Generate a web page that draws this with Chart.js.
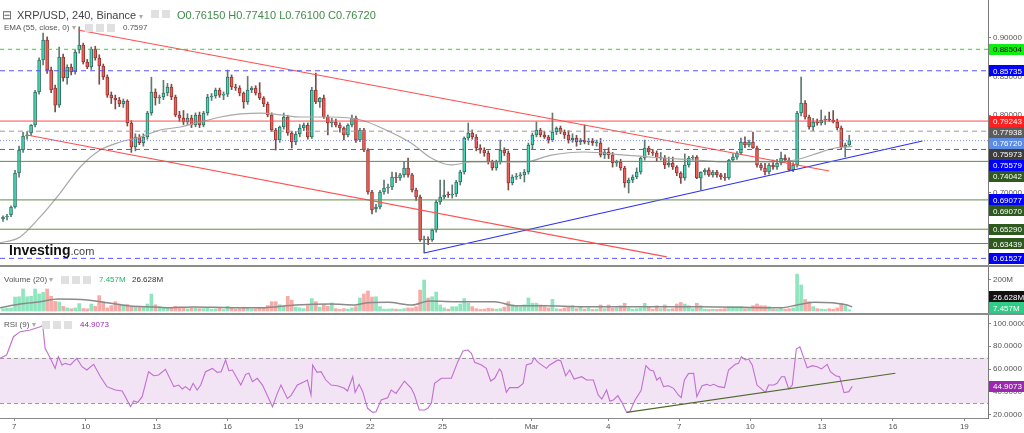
<!DOCTYPE html>
<html>
<head>
<meta charset="utf-8">
<title>XRP/USD, 240, Binance</title>
<script src="https://cdn.jsdelivr.net/npm/chart.js@4.4.1/dist/chart.umd.min.js"></script>
<style>
  html, body { margin: 0; padding: 0; background: #fff; }
  body { position: relative; width: 1024px; height: 433px; overflow: hidden; font-family: "Liberation Sans", Arial, sans-serif; }
  .pane { position: absolute; left: 0; }
  .lg { position: absolute; white-space: nowrap; color: #555; font-size: 8px; line-height: 10px; }
  .ic { display: inline-block; width: 8px; height: 8px; background: #e0e0e0; margin-right: 3px; vertical-align: -1px; }
  .sep { position: absolute; left: 0; width: 1024px; height: 2px; background: #8c8c8c; }
</style>
</head>
<body>
<canvas id="pc" class="pane" width="1024" height="266" style="top:0"></canvas>
<canvas id="vc" class="pane" width="1024" height="48" style="top:266px"></canvas>
<canvas id="rc" class="pane" width="1024" height="119" style="top:314px"></canvas>
<div class="sep" style="top:265px"></div>
<div class="sep" style="top:313px"></div>

<div class="lg" style="left:2px;top:8px;font-size:12px;line-height:14px;color:#666">&#8863;</div>
<div class="lg" style="left:17px;top:8px;font-size:11px;line-height:14px;color:#444">XRP/USD, 240, Binance <span style="font-size:8px;color:#aaa">&#9662;</span></div>
<div class="lg" style="left:151px;top:10px"><span class="ic"></span><span class="ic"></span></div>
<div class="lg" style="left:177px;top:8px;font-size:11px;line-height:14px;color:#3f8c4a">O0.76150 H0.77410 L0.76100 C0.76720</div>

<div class="lg" style="left:4px;top:23px">EMA (55, close, 0) <span style="color:#aaa">&#9662;</span></div>
<div class="lg" style="left:85px;top:24px"><span class="ic"></span><span class="ic"></span><span class="ic"></span></div>
<div class="lg" style="left:123px;top:23px;color:#555">0.7597</div>

<div class="lg" style="left:9px;top:242px;font-size:14px;line-height:16px;font-weight:bold;color:#111">Investing<span style="font-weight:normal;font-size:11px;color:#444">.com</span></div>

<div class="lg" style="left:4px;top:275px">Volume (20) <span style="color:#aaa">&#9662;</span></div>
<div class="lg" style="left:61px;top:276px"><span class="ic"></span><span class="ic"></span><span class="ic"></span></div>
<div class="lg" style="left:99px;top:275px;color:#22b573">7.457M</div>
<div class="lg" style="left:132px;top:275px;color:#333">26.628M</div>

<div class="lg" style="left:4px;top:320px">RSI (9) <span style="color:#aaa">&#9662;</span></div>
<div class="lg" style="left:42px;top:321px"><span class="ic"></span><span class="ic"></span><span class="ic"></span></div>
<div class="lg" style="left:80px;top:320px;color:#9c27b0">44.9073</div>

<script>
// 4h candles, index 0 = Feb 6 ~12:00, last = Mar 14 ~04:00
const opens = [
  .6661,.6687,.6712,.6816,.7254,.7551,.7732,.7770,.7874,.8299,
  .8712,.8970,.8583,.8351,.8131,.8751,.8480,.8622,.8557,.8841,
  .8906,.8686,.8622,.8854,.8738,.8635,.8493,.8260,.8222,.8196,
  .8144,.8183,.7899,.7590,.7719,.7641,.7719,.8028,.8299,.8222,
  .8235,.8286,.8364,.8235,.8003,.7964,.7912,.7964,.7874,.8003,
  .7874,.8028,.8235,.8248,.8325,.8260,.8273,.8493,.8364,.8351,
  .8286,.8170,.8325,.8351,.8286,.8222,.8144,.8003,.7809,.7680,
  .7848,.7977,.7770,.7654,.7757,.7835,.7874,.7719,.8325,.8170,
  .8222,.7977,.7899,.7912,.7874,.7835,.7745,.7874,.7964,.7680,
  .7809,.7551,.7009,.6790,.6816,.7009,.7061,.7074,.7203,.7190,
  .7229,.7319,.7229,.7035,.6945,.6390,.6403,.6390,.6519,.6880,
  .6945,.6983,.6970,.6983,.7138,.7267,.7706,.7770,.7719,.7577,
  .7551,.7512,.7396,.7319,.7396,.7551,.7512,.7125,.7203,.7216,
  .7229,.7267,.7616,.7745,.7809,.7745,.7719,.7680,.7783,.7835,
  .7783,.7745,.7680,.7706,.7654,.7680,.7654,.7667,.7641,.7641,
  .7486,.7525,.7486,.7383,.7396,.7319,.7125,.7164,.7203,.7267,
  .7448,.7577,.7525,.7512,.7448,.7448,.7358,.7383,.7332,.7254,
  .7190,.7358,.7448,.7460,.7190,.7267,.7293,.7229,.7267,.7229,
  .7203,.7190,.7422,.7460,.7512,.7654,.7616,.7654,.7577,.7358,
  .7319,.7267,.7358,.7332,.7383,.7448,.7422,.7293,.7358,.8028,
  .8157,.7977,.7848,.7912,.7899,.7938,.7951,.7938,.7912,.7835,
  .7590,.7615
];
const highs = [
  .6700,.6720,.6830,.7290,.7600,.7780,.7790,.7880,.8320,.8740,
  .9060,.9010,.8620,.8390,.8880,.8790,.8650,.8660,.8840,.9140,
  .8930,.8720,.8880,.8890,.8780,.8660,.8520,.8300,.8260,.8230,
  .8210,.8200,.7930,.7760,.7750,.7760,.8050,.8490,.8340,.8260,
  .8450,.8410,.8400,.8260,.8050,.8060,.8020,.8000,.8030,.8040,
  .8050,.8270,.8280,.8350,.8350,.8300,.8583,.8520,.8400,.8380,
  .8300,.8500,.8370,.8380,.8420,.8240,.8170,.8030,.7830,.7860,
  .8028,.8000,.7790,.7790,.7880,.7900,.7900,.8360,.8544,.8230,
  .8260,.8000,.7960,.7950,.7900,.7850,.7890,.8003,.7990,.7830,
  .7830,.7570,.7030,.6850,.7030,.7164,.7110,.7267,.7260,.7250,
  .7400,.7448,.7250,.7060,.6970,.6440,.6430,.6530,.6900,.7164,
  .7164,.7010,.7100,.7160,.7290,.7720,.7899,.7810,.7750,.7620,
  .7580,.7540,.7420,.7420,.7680,.7580,.7540,.7230,.7250,.7260,
  .7300,.7640,.7770,.7912,.7830,.7790,.7740,.8028,.7850,.7860,
  .7810,.7800,.7760,.7740,.7700,.7874,.7700,.7700,.7680,.7700,
  .7560,.7580,.7520,.7420,.7430,.7340,.7190,.7230,.7320,.7460,
  .7680,.7600,.7560,.7540,.7520,.7480,.7460,.7460,.7350,.7270,
  .7500,.7470,.7480,.7480,.7270,.7310,.7320,.7290,.7290,.7250,
  .7250,.7430,.7500,.7530,.7706,.7720,.7680,.7783,.7600,.7380,
  .7380,.7380,.7420,.7430,.7525,.7490,.7450,.7390,.8050,.8493,
  .8190,.8000,.7960,.7950,.8067,.7990,.8040,.8060,.7950,.7860,
  .7640,.7741
];
const lows = [
  .6630,.6650,.6690,.6800,.7200,.7520,.7690,.7740,.7850,.8270,
  .8650,.8540,.8290,.8041,.8100,.8440,.8400,.8520,.8530,.8800,
  .8660,.8600,.8590,.8710,.8400,.8460,.8230,.8150,.8080,.8110,
  .8100,.7860,.7520,.7540,.7620,.7600,.7690,.8000,.8130,.8150,
  .8200,.8250,.8200,.7980,.7920,.7880,.7880,.7840,.7850,.7840,
  .7850,.8000,.8190,.8220,.8230,.8200,.8240,.8330,.8320,.8250,
  .8090,.8140,.8290,.8260,.8200,.8110,.7980,.7790,.7551,.7650,
  .7820,.7740,.7577,.7620,.7720,.7800,.7690,.7700,.8150,.8100,
  .7960,.7745,.7850,.7850,.7780,.7680,.7720,.7850,.7650,.7660,
  .7530,.6980,.6725,.6750,.6790,.6980,.6990,.7040,.7130,.7160,
  .7200,.7200,.7010,.6900,.6370,.6222,.6330,.6370,.6490,.6850,
  .6920,.6940,.6930,.6950,.7100,.7240,.7680,.7690,.7540,.7510,
  .7470,.7370,.7290,.7290,.7370,.7480,.7035,.7100,.7170,.7180,
  .7138,.7240,.7560,.7720,.7720,.7700,.7640,.7660,.7750,.7760,
  .7700,.7640,.7650,.7600,.7620,.7630,.7620,.7610,.7600,.7460,
  .7440,.7440,.7330,.7340,.7290,.7070,.6996,.7130,.7180,.7240,
  .7420,.7490,.7480,.7400,.7420,.7310,.7330,.7300,.7220,.7120,
  .7160,.7330,.7420,.7180,.7035,.7230,.7210,.7200,.7200,.7170,
  .7160,.7170,.7400,.7430,.7490,.7580,.7590,.7570,.7330,.7290,
  .7230,.7240,.7300,.7300,.7360,.7400,.7280,.7270,.7330,.7990,
  .7950,.7820,.7800,.7870,.7870,.7880,.7920,.7900,.7810,.7560,
  .7460,.7610
];
const closes = [
  .6687,.6699,.6816,.7254,.7551,.7732,.7745,.7874,.8299,.8712,
  .8970,.8583,.8325,.8131,.8751,.8480,.8622,.8557,.8815,.8906,
  .8686,.8622,.8854,.8738,.8635,.8493,.8260,.8222,.8196,.8144,
  .8183,.7899,.7590,.7719,.7641,.7719,.8028,.8299,.8222,.8235,
  .8286,.8364,.8235,.8003,.7964,.7912,.7964,.7874,.8003,.7874,
  .8028,.8235,.8248,.8325,.8260,.8273,.8493,.8364,.8351,.8286,
  .8170,.8325,.8351,.8286,.8222,.8144,.8003,.7809,.7680,.7848,
  .7977,.7770,.7654,.7757,.7835,.7874,.7719,.8325,.8170,.8222,
  .7977,.7899,.7912,.7874,.7835,.7745,.7874,.7964,.7680,.7809,
  .7551,.7009,.6777,.6816,.7009,.7061,.7074,.7203,.7190,.7229,
  .7319,.7229,.7035,.6945,.6390,.6403,.6390,.6519,.6880,.6945,
  .6970,.6970,.6983,.7138,.7267,.7706,.7770,.7719,.7577,.7551,
  .7512,.7396,.7319,.7396,.7551,.7512,.7125,.7203,.7216,.7229,
  .7267,.7616,.7745,.7809,.7745,.7719,.7680,.7783,.7835,.7783,
  .7745,.7680,.7706,.7654,.7680,.7654,.7667,.7641,.7641,.7486,
  .7525,.7486,.7383,.7396,.7319,.7125,.7164,.7203,.7267,.7448,
  .7577,.7525,.7512,.7448,.7448,.7358,.7383,.7332,.7254,.7190,
  .7358,.7448,.7460,.7190,.7267,.7293,.7229,.7267,.7229,.7203,
  .7190,.7422,.7460,.7512,.7654,.7616,.7654,.7577,.7358,.7319,
  .7267,.7358,.7332,.7383,.7448,.7422,.7293,.7358,.8028,.8157,
  .7977,.7848,.7912,.7899,.7938,.7951,.7938,.7912,.7835,.7590,
  .7615,.7672
];
// volume in millions
const volumes = [
  15,18,20,90,92,142,92,95,142,110,
  120,142,95,62,58,30,20,14,20,48,
  16,14,45,30,99,60,20,35,60,45,
  40,42,30,28,30,28,45,109,40,28,
  20,18,22,30,25,20,14,20,18,15,
  15,22,12,14,18,10,30,22,12,15,
  25,20,12,14,18,20,35,60,60,40,
  30,95,70,25,20,15,35,80,60,25,
  40,30,52,15,10,15,12,20,28,84,
  110,129,90,92,28,12,12,14,12,10,
  15,20,20,28,135,200,84,92,122,39,
  20,12,28,28,45,80,50,28,15,10,
  12,18,15,12,15,25,60,39,30,28,
  40,84,50,50,39,28,20,75,15,12,
  20,28,34,15,28,12,20,10,12,39,
  15,39,18,20,34,50,20,12,15,20,
  50,28,12,34,15,39,12,15,45,55,
  45,34,15,50,34,12,10,12,10,12,
  15,28,28,28,28,15,20,34,45,34,
  34,28,12,10,17,12,15,20,238,168,
  74,60,28,15,12,10,15,12,20,50,
  34,7.457
];

// EMA(55)
const emaX = [-0.75,4.25,9.25,14.25,19.25,24.25,29.25,34.25,39.25,44.25,49.25,54.25,59.25,64.25,69.25,74.25,81.75,89.25,95.5,101.75,106.75,111.75,116.75,121.75,130,136.75,145,155,164.25,172.5,181,189.25,197.5,201.75,207.5,211.75];
const emaY = [.6351,.6429,.6687,.6996,.7332,.7551,.7654,.7719,.7809,.7848,.7912,.7977,.8016,.8028,.8003,.7977,.7977,.7938,.7809,.7641,.7448,.7358,.7396,.7396,.7396,.7486,.7525,.7486,.7448,.7422,.7396,.7396,.7422,.7486,.7577,.7597];

// volume MA(20)
const vmaX = [-0.75,4.25,9.25,13.75,21,24.25,31,36,41,47.5,52.5,64.25,73,81.75,87.75,91,96,102,106.25,112.25,122.5,127.75,134.75,145,159.25,173.5,194,198,202.25,210.25,211.75];
const vmaY = [21,45,60,77,71,60,34,28,21,26,24,21,39,45,39,54,56,39,65,60,60,34,34,28,28,28,21,39,56,40,26.628];

// RSI(9)
const rsiX = [
  -0.75,0.9,2.6,4.3,6.8,9.3,9.9,10.5,11.8,13,13.8,14.7,15.5,16.8,18.4,19.7,20.9,22.6,24.3,25.9,
  28,29.7,30.5,31.8,32.6,33.6,34.7,36.3,37.6,38.8,40.5,42.6,43.8,44.7,45.5,46.6,47.4,48.4,49.3,50.5,
  52.2,53.4,54.4,55.5,56.3,57.2,59.3,60.5,61.3,62.2,63.4,64.7,67.2,68.4,69.3,70.9,71.8,73.4,75.1,75.9,
  76.8,77.2,78.3,79.3,80.5,81.8,83.4,85.1,85.9,87.2,87.8,88.8,89.7,90.9,92.2,93,94.3,95.9,96.8,98,
  100.1,101.8,102.6,103.8,105.1,105.9,106.8,107.6,109.3,111.8,113.4,114.7,115.9,116.8,117.6,119.3,120.5,121.6,122.6,123.8,
  124.3,125.5,126.3,128.4,129.7,130.5,131.8,132.4,133.4,135.5,136.3,138.4,139.1,140.3,141.3,142.4,144.3,145.5,147.2,148.4,
  149.3,150.5,151.3,152.2,153.3,154.3,155.5,156.3,157.6,159.1,160.3,161.3,162.2,163,163.8,164.7,165.9,167.2,168.4,169.1,
  169.9,170.9,172.2,173,174.3,175.5,176.3,177.2,178.4,179.9,180.9,182.6,183.4,184.1,185.1,185.9,186.8,188,190.1,190.9,
  192.2,193,194.1,194.9,195.9,196.8,197.8,198.7,199.7,200.5,201.8,203,204.1,205.5,206.3,207.6,208.6,209.7,210.9,211.75
];
const rsiY = [
  69.4,72.3,88.4,92.8,94.3,97.2,98.1,78.2,69.4,60.6,70.9,63.6,65.0,63.6,69.4,62.1,59.2,64.2,53.3,44.6,
  41.6,40.8,35.8,27.0,32.0,30.8,35.8,57.7,54.2,54.8,59.8,44.6,46.0,42.5,44.6,41.6,47.5,41.6,46.0,57.7,
  60.6,57.1,57.7,68.0,58.6,59.2,46.0,55.4,56.3,48.9,51.9,46.0,27.0,38.7,46.0,34.3,36.7,46.0,48.9,50.4,
  37.3,63.6,57.1,57.7,50.4,46.0,45.4,43.1,40.8,53.3,39.6,46.6,40.2,25.6,22.0,22.6,32.9,34.9,41.6,38.7,
  49.5,43.1,37.3,24.1,24.1,25.6,29.9,47.5,51.9,51.9,66.5,75.8,76.7,73.8,65.9,63.6,60.6,49.5,51.9,60.1,
  57.7,39.6,43.7,43.7,47.5,63.6,65.0,70.0,65.9,60.6,63.6,68.0,67.1,54.2,59.2,51.3,53.3,50.4,50.4,37.3,
  33.7,41.6,32.0,32.9,36.7,30.8,22.0,22.6,32.9,41.1,63.0,59.2,58.3,50.4,52.7,44.6,45.4,43.1,37.3,34.9,
  50.4,56.0,56.3,35.8,45.4,46.6,45.4,46.6,44.6,43.7,59.2,64.2,65.0,70.9,68.0,68.8,63.6,46.0,39.6,46.0,
  46.0,47.5,53.3,53.3,42.5,46.0,77.6,79.6,69.4,61.2,63.0,62.1,60.1,64.2,57.7,54.2,53.3,39.3,40.2,44.9
];

// drawn trend lines (candle index, value)
const chanTopX = [18.75, 206], chanTopY = [.9099, .7280];
const chanBotX = [6, 165.5], chanBotY = [.7745, .6171];
const supportX = [105, 229.25], supportY = [.6222, .7667];
const rsiTrendX = [155.5, 222.5], rsiTrendY = [22, 56.3];

// horizontal levels and axis labels
const levelVals = [0.88504, 0.85735, 0.79243, 0.77938, 0.76720, 0.75579, 0.74042, 0.69070, 0.65290, 0.63439, 0.61527];
const levelKinds = ['green','blue','red','gray','last','blue','dkgreen','dkgreen','dkgreen','dkgreen','blue'];
const boxVals = [0.88504, 0.85735, 0.79243, 0.77938, 0.76720, 0.75973, 0.75579, 0.74042, 0.69077, 0.69070, 0.65290, 0.63439, 0.61527];
const boxKinds = ['green','blue','red','gray','last','ema','blue','dkgreen','blue','dkgreen','dkgreen','dkgreen','blue'];
const priceTicks = [0.65, 0.70, 0.75, 0.80, 0.85, 0.90];
const volTicks = [200];
const rsiTicks = [20, 40, 60, 80, 100];
const dayTickPos = [2.8, 20.6, 38.3, 56.0, 73.8, 91.6, 109.6, 131.8, 150.9, 168.6, 186.3, 204.2, 221.9, 239.7];
const dayTickLbl = ['7','10','13','16','19','22','25','Mar','4','7','10','13','16','19'];
const lastVolMA = 26.628, lastVol = 7.457, lastRsi = 44.9073;

// ---- styles ----
const FONT = '"Liberation Sans", Arial, sans-serif';
const X_MIN = -0.75, X_MAX = 245.6;
const UP_FILL = '#3fdcb9', UP_LINE = '#2f6f61', UP_WICK = '#5f7a72';
const DN_FILL = '#f0605a', DN_LINE = '#9a3530', DN_WICK = '#7a4d4a';
const LINE_STYLE = {
  green: { c: '#2bd62b', d: [4, 4] },
  blue: { c: '#5656ff', d: [5, 4] },
  red: { c: '#ff4a4a', d: [] },
  gray: { c: '#9a9a9a', d: [5, 4] },
  last: { c: '#7b93f2', d: [1, 2] },
  dkgreen: { c: '#5e8c4b', d: [] }
};
const BOX_STYLE = {
  green: ['#11ee11', '#000'], blue: ['#0000ff', '#fff'], red: ['#ff2020', '#fff'],
  gray: ['#5c5c5c', '#fff'], last: ['#5a8ce8', '#fff'], ema: ['#3c3c3c', '#fff'],
  dkgreen: ['#2f5a1f', '#fff'], vma: ['#111', '#fff'], vol: ['#2ecc87', '#fff'], rsi: ['#9c27b0', '#fff']
};

const idx = closes.map((c, i) => i);
const isUp = closes.map((c, i) => c >= opens[i]);
const pts = (xs, ys) => xs.map((x, k) => ({ x: x, y: ys[k] }));
const seg = (xs, ys, color, w, dash) => ({
  type: 'line', data: pts(xs, ys), borderColor: color, borderWidth: w,
  borderDash: dash || [], pointRadius: 0, fill: false, order: 0
});

function yAxis(min, max, tickVals, fmt) {
  return {
    position: 'right', min: min, max: max,
    afterBuildTicks: s => { s.ticks = tickVals.map(v => ({ value: v })); },
    afterFit: s => { s.width = 36; s.paddingTop = 0; s.paddingBottom = 0; },
    ticks: { color: '#555', font: { family: FONT, size: 8 }, padding: 2, autoSkip: false, callback: fmt },
    grid: { drawOnChartArea: false, drawTicks: true, tickLength: 3, color: '#888' },
    border: { display: true, color: '#7a7a7a' }
  };
}
const hiddenX = { type: 'linear', min: X_MIN, max: X_MAX, display: false, offset: false };

function baseOpts(x, y) {
  return {
    responsive: false, animation: false, events: [], devicePixelRatio: 1,
    layout: { padding: 0 },
    plugins: { legend: { display: false }, tooltip: { enabled: false } },
    scales: { x: x, y: y }
  };
}

// value boxes on the right axis
function boxPlugin(id, items, pushUp) {
  return {
    id: id,
    afterDraw(chart) {
      const ctx = chart.ctx, ca = chart.chartArea, sc = chart.scales.y, h = 11;
      const arr = items.map(it => ({ t: it.t, k: it.k, py: sc.getPixelForValue(it.v) }));
      arr.sort((a, b) => a.py - b.py);
      if (pushUp) {
        for (let k = arr.length - 1; k >= 0; k--) {
          const lim = k === arr.length - 1 ? ca.bottom - h / 2 - 1 : arr[k + 1].py - h;
          arr[k].py = Math.min(arr[k].py, lim);
        }
      } else {
        for (let k = 1; k < arr.length; k++) arr[k].py = Math.max(arr[k].py, arr[k - 1].py + h);
      }
      ctx.save();
      ctx.font = '8px ' + FONT;
      ctx.textBaseline = 'middle';
      arr.forEach(a => {
        const st = BOX_STYLE[a.k];
        ctx.fillStyle = st[0];
        ctx.fillRect(ca.right + 1, Math.round(a.py - h / 2), chart.width - ca.right - 1, h);
        ctx.fillStyle = st[1];
        ctx.fillText(a.t, ca.right + 5, Math.round(a.py) + 0.5);
      });
      ctx.restore();
    }
  };
}

// ---- price panel ----
const priceSets = [];
levelVals.forEach((v, k) => {
  const st = LINE_STYLE[levelKinds[k]];
  priceSets.push(seg([X_MIN, X_MAX], [v, v], st.c, 1, st.d));
});
priceSets.push(seg(chanTopX, chanTopY, '#ff5050', 1.2));
priceSets.push(seg(chanBotX, chanBotY, '#ff5050', 1.2));
priceSets.push(seg(supportX, supportY, '#3030ee', 1.2));
priceSets.push(Object.assign(seg(emaX, emaY, '#a8a8a8', 1.2), { tension: 0.4, cubicInterpolationMode: 'monotone' }));
priceSets.push({
  type: 'bar', data: idx.map(i => ({ x: i, y: [opens[i], closes[i]] })),
  backgroundColor: isUp.map(u => u ? UP_FILL : DN_FILL),
  borderColor: isUp.map(u => u ? UP_LINE : DN_LINE),
  borderWidth: 1, borderSkipped: false, barThickness: 3, minBarLength: 1, grouped: false, order: 1
});
priceSets.push({
  type: 'bar', data: idx.map(i => ({ x: i, y: [lows[i], highs[i]] })),
  backgroundColor: isUp.map(u => u ? UP_WICK : DN_WICK),
  borderWidth: 0, barThickness: 1, grouped: false, order: 2
});

new Chart(document.getElementById('pc'), {
  type: 'bar',
  data: { datasets: priceSets },
  options: baseOpts(hiddenX, yAxis(0.60542, 0.94865, priceTicks, v => v.toFixed(5))),
  plugins: [boxPlugin('pbox', boxVals.map((v, k) => ({ v: v, k: boxKinds[k], t: v.toFixed(5) })), false)]
});

// ---- volume panel ----
new Chart(document.getElementById('vc'), {
  type: 'bar',
  data: {
    datasets: [
      Object.assign(seg(vmaX, vmaY, '#8a8a8a', 1.5), { tension: 0.4, cubicInterpolationMode: 'monotone' }),
      {
        type: 'bar', data: idx.map(i => ({ x: i, y: volumes[i] })),
        backgroundColor: isUp.map(u => u ? '#8fe5bd' : '#f8aaa6'),
        borderWidth: 0, barThickness: 3, grouped: false, order: 1
      }
    ]
  },
  options: baseOpts(hiddenX, yAxis(-19.35, 290.3, volTicks, v => v + 'M')),
  plugins: [boxPlugin('vbox', [
    { v: lastVolMA, k: 'vma', t: lastVolMA.toFixed(3) + 'M' },
    { v: lastVol, k: 'vol', t: lastVol.toFixed(3) + 'M' }
  ], true)]
});

// ---- RSI panel ----
const rsiBand = {
  id: 'band',
  beforeDatasetsDraw(chart) {
    const ctx = chart.ctx, ca = chart.chartArea, sc = chart.scales.y;
    const y70 = sc.getPixelForValue(70), y30 = sc.getPixelForValue(30);
    ctx.save();
    ctx.fillStyle = '#f2e4f4';
    ctx.fillRect(ca.left, y70, ca.right - ca.left, y30 - y70);
    ctx.strokeStyle = '#9a9a9a';
    ctx.lineWidth = 1;
    ctx.setLineDash([4, 3]);
    [y70, y30].forEach(y => {
      ctx.beginPath();
      ctx.moveTo(ca.left, Math.round(y) + 0.5);
      ctx.lineTo(ca.right, Math.round(y) + 0.5);
      ctx.stroke();
    });
    ctx.restore();
  }
};

const dateX = {
  type: 'linear', min: X_MIN, max: X_MAX, offset: false, position: 'bottom',
  afterBuildTicks: s => { s.ticks = dayTickPos.map(v => ({ value: v })); },
  afterFit: s => { s.height = 15; s.paddingLeft = 0; s.paddingRight = 0; },
  ticks: { color: '#555', font: { family: FONT, size: 8 }, padding: 1, maxRotation: 0, autoSkip: false,
           callback: (v, i) => dayTickLbl[i] },
  grid: { drawOnChartArea: false, drawTicks: true, tickLength: 3, color: '#888' },
  border: { display: true, color: '#888' }
};

new Chart(document.getElementById('rc'), {
  type: 'line',
  data: {
    datasets: [
      seg(rsiTrendX, rsiTrendY, '#4f6a2c', 1.1),
      Object.assign(seg(rsiX, rsiY, '#c06fd2', 1.1), { order: 1 })
    ]
  },
  options: baseOpts(dateX, yAxis(17.1, 108.3, rsiTicks, v => v.toFixed(4))),
  plugins: [rsiBand, boxPlugin('rbox', [{ v: lastRsi, k: 'rsi', t: lastRsi.toFixed(4) }], false)]
});
</script>
</body>
</html>
